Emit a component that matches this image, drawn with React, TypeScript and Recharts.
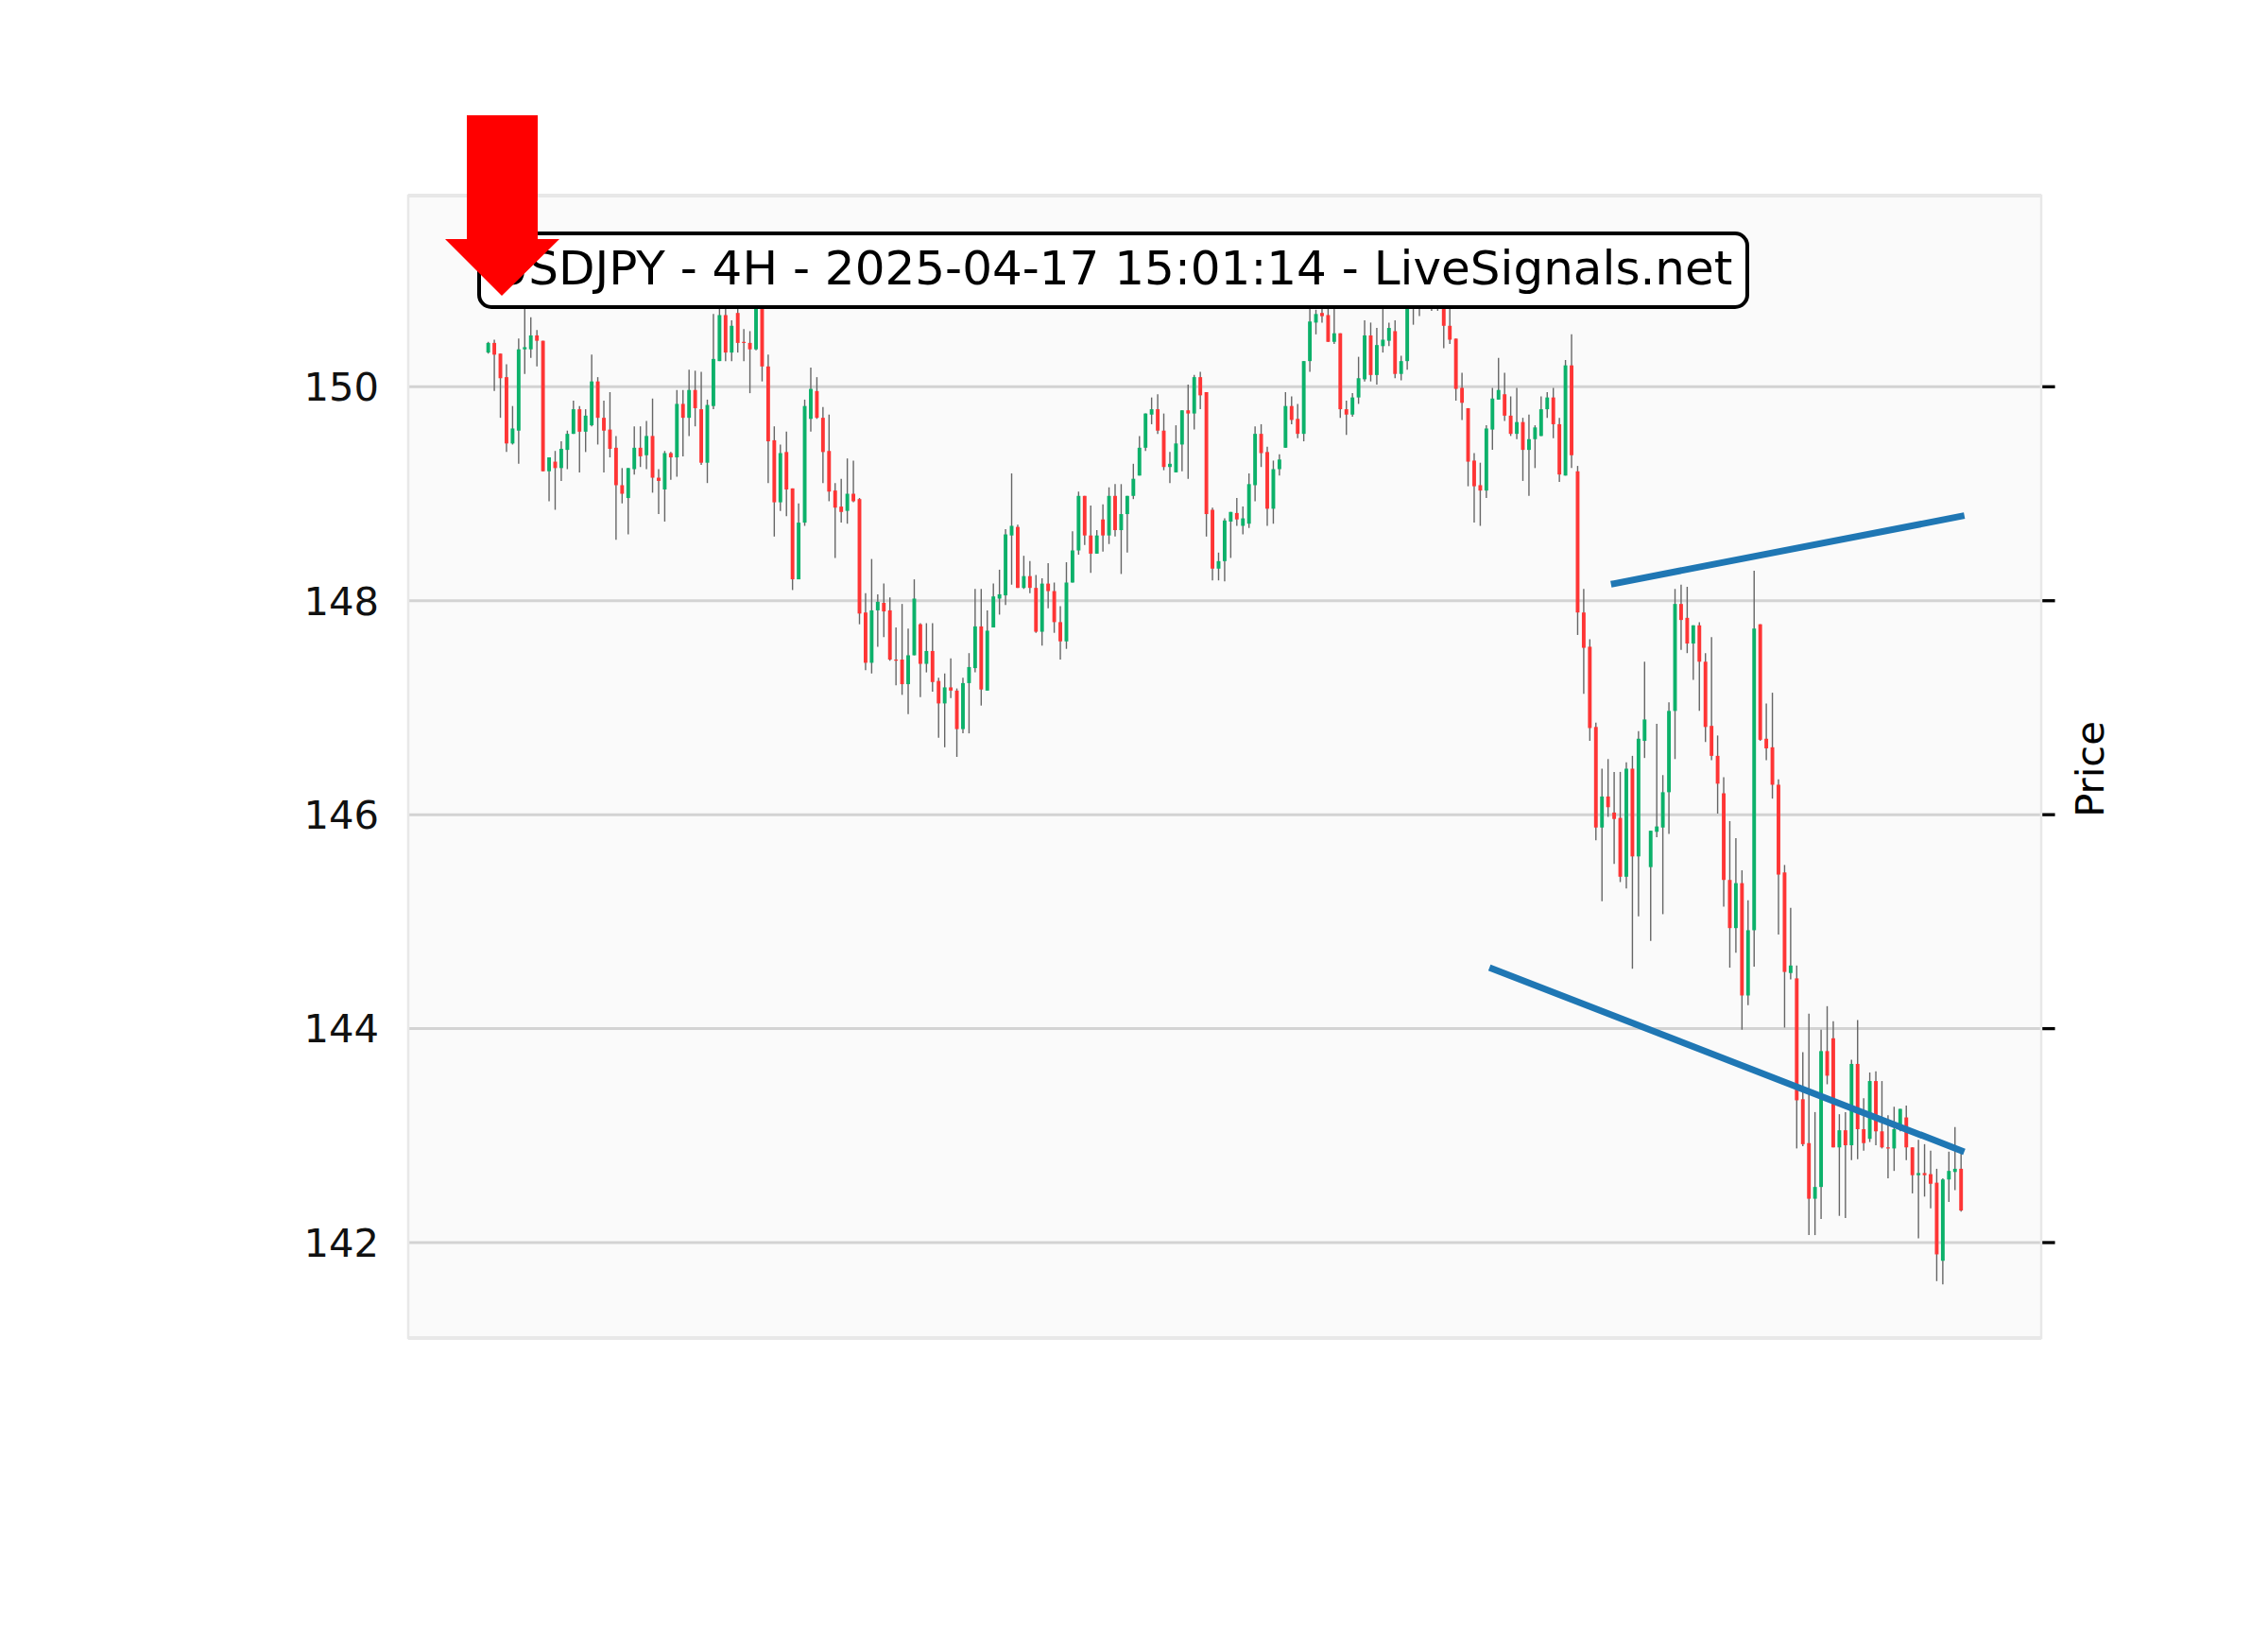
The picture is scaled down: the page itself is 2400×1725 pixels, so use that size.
import React from "react";
import { ComposedChart, Bar, Line, XAxis, YAxis, CartesianGrid } from "recharts";

// 4H candles, oldest first
const OPEN = [
  150.32, 150.41, 150.31, 150.09, 149.47, 149.59, 150.35, 150.35, 150.48, 150.43,
  149.21, 149.30, 149.24, 149.41, 149.56, 149.79, 149.58, 149.64, 150.05, 149.71,
  149.60, 149.43, 149.08, 148.96, 149.23, 149.43, 149.36, 149.54, 149.15, 149.04,
  149.38, 149.34, 149.84, 149.71, 149.97, 149.79, 149.29, 149.82, 150.24, 150.67,
  150.32, 150.69, 150.42, 150.41, 150.35, 150.80, 150.19, 149.50, 148.92, 149.39,
  149.05, 148.20, 148.73, 149.70, 149.96, 149.71, 149.40, 149.03, 148.88, 148.84,
  149.00, 148.95, 147.89, 147.42, 147.91, 147.98, 147.91, 147.45, 147.45, 147.22,
  147.49, 147.78, 147.41, 147.53, 147.25, 147.04, 147.19, 147.16, 146.80, 147.23,
  147.37, 147.76, 147.16, 147.75, 148.02, 148.05, 148.61, 148.69, 148.12, 148.23,
  148.12, 147.71, 148.16, 148.09, 147.80, 147.62, 148.17, 148.47, 148.98, 148.61,
  148.44, 148.76, 148.61, 148.98, 148.66, 148.81, 148.98, 149.17, 149.43, 149.74,
  149.79, 149.59, 149.25, 149.20, 149.46, 149.78, 149.75, 150.09, 149.95, 148.85,
  148.30, 148.37, 148.74, 148.82, 148.70, 148.72, 149.08, 149.56, 149.39, 148.86,
  149.23, 149.43, 149.82, 149.70, 149.56, 150.24, 150.60, 150.69, 150.67, 150.42,
  150.50, 149.79, 149.74, 149.90, 150.07, 150.48, 150.11, 150.38, 150.43, 150.52,
  150.12, 150.24, 150.82, 150.95, 150.86, 150.92, 150.88, 150.82, 150.57, 150.45,
  149.99, 149.80, 149.31, 149.08, 149.03, 149.60, 149.88, 149.93, 149.73, 149.56,
  149.67, 149.41, 149.51, 149.54, 149.79, 149.90, 149.65, 149.17, 150.20, 149.21,
  147.89, 147.57, 146.82, 145.88, 146.17, 146.02, 145.97, 145.42, 146.43, 145.61,
  146.69, 145.51, 145.84, 145.88, 146.21, 146.97, 147.97, 147.84, 147.60, 147.77,
  147.43, 146.83, 146.55, 146.20, 145.39, 144.94, 145.36, 144.31, 144.92, 147.78,
  146.71, 146.63, 146.28, 145.46, 144.52, 144.47, 143.34, 142.93, 142.41, 142.52,
  143.79, 143.91, 142.89, 143.05, 142.91, 143.67, 143.06, 142.97, 143.51, 143.04,
  142.89, 142.88, 143.06, 143.17, 142.89, 142.63, 142.65, 142.64, 142.56, 141.83,
  142.59, 142.66, 142.69,
];

const HIGH = [
  150.42, 150.44, 150.31, 150.21, 149.82, 150.45, 150.73, 150.65, 150.53, 150.43,
  149.34, 149.40, 149.49, 149.59, 149.87, 149.82, 149.79, 150.30, 150.09, 149.87,
  149.95, 149.54, 149.24, 149.24, 149.63, 149.63, 149.68, 149.89, 149.23, 149.40,
  149.39, 149.97, 149.97, 150.16, 150.15, 150.14, 149.88, 150.68, 150.80, 150.74,
  150.62, 150.73, 150.54, 150.52, 150.85, 150.85, 150.30, 149.63, 149.46, 149.58,
  149.05, 148.91, 149.88, 150.18, 150.09, 149.81, 149.74, 149.10, 149.14, 149.33,
  149.31, 148.96, 148.07, 148.39, 148.06, 148.16, 148.03, 147.75, 147.97, 147.74,
  148.20, 147.79, 147.79, 147.79, 147.28, 147.32, 147.46, 147.18, 147.28, 147.51,
  148.11, 148.11, 147.91, 148.16, 148.29, 148.67, 149.19, 148.71, 148.42, 148.37,
  148.24, 148.21, 148.35, 148.17, 147.95, 148.36, 148.65, 149.02, 148.98, 148.89,
  148.66, 148.90, 149.06, 149.09, 149.09, 148.98, 149.28, 149.54, 149.75, 149.90,
  149.93, 149.75, 149.39, 149.64, 149.78, 150.02, 150.11, 150.14, 149.95, 148.87,
  148.45, 148.77, 148.83, 148.96, 148.88, 149.19, 149.63, 149.65, 149.44, 149.31,
  149.37, 149.95, 149.91, 149.84, 150.24, 150.74, 150.72, 150.73, 150.75, 150.76,
  150.50, 149.87, 149.94, 150.28, 150.62, 150.60, 150.55, 150.73, 150.60, 150.62,
  150.29, 150.92, 151.02, 151.10, 151.00, 151.05, 150.98, 150.90, 150.73, 150.45,
  150.13, 149.80, 149.38, 149.29, 149.64, 149.99, 150.27, 150.13, 149.91, 149.99,
  149.71, 149.74, 149.64, 149.91, 149.95, 149.99, 149.71, 150.25, 150.49, 149.26,
  148.11, 147.64, 146.86, 146.43, 146.52, 146.40, 146.40, 146.49, 146.55, 146.78,
  147.43, 145.85, 146.85, 146.37, 147.05, 148.11, 148.15, 148.13, 147.77, 147.80,
  147.51, 147.66, 146.74, 146.35, 145.94, 145.78, 145.48, 145.20, 148.28, 147.78,
  147.04, 147.14, 146.33, 145.53, 145.13, 144.59, 143.78, 144.14, 143.22, 143.99,
  144.21, 144.07, 143.20, 143.22, 143.71, 144.08, 143.35, 143.59, 143.60, 143.51,
  143.19, 143.27, 143.25, 143.28, 142.89, 142.96, 142.92, 142.86, 142.69, 142.60,
  142.85, 143.08, 142.85,
];

const LOW = [
  150.31, 149.96, 149.71, 149.39, 149.46, 149.28, 150.12, 150.27, 150.19, 149.21,
  148.93, 148.85, 149.12, 149.23, 149.56, 149.20, 149.39, 149.63, 149.46, 149.20,
  149.34, 148.57, 148.91, 148.62, 149.18, 149.25, 149.23, 149.01, 148.81, 148.74,
  149.13, 149.16, 149.35, 149.54, 149.63, 149.27, 149.10, 149.79, 150.24, 150.24,
  150.24, 150.32, 150.24, 149.94, 150.34, 150.05, 149.10, 148.60, 148.84, 148.79,
  148.10, 148.20, 148.70, 149.58, 149.70, 149.10, 148.93, 148.40, 148.73, 148.72,
  148.92, 147.78, 147.35, 147.32, 147.57, 147.66, 147.44, 147.21, 147.12, 146.94,
  147.49, 147.10, 147.33, 147.15, 146.72, 146.63, 147.09, 146.54, 146.76, 146.76,
  147.33, 147.02, 147.16, 147.75, 147.87, 147.96, 148.15, 148.12, 148.11, 148.07,
  147.70, 147.58, 147.93, 147.70, 147.45, 147.55, 148.17, 148.43, 148.52, 148.26,
  148.44, 148.46, 148.53, 148.60, 148.25, 148.45, 148.95, 149.17, 149.40, 149.65,
  149.56, 149.22, 149.10, 149.20, 149.21, 149.14, 149.60, 149.79, 148.60, 148.19,
  148.19, 148.18, 148.40, 148.70, 148.62, 148.68, 148.93, 149.25, 148.70, 148.72,
  149.17, 149.43, 149.65, 149.52, 149.49, 150.14, 150.49, 150.60, 150.42, 150.40,
  149.71, 149.55, 149.72, 149.84, 150.05, 150.05, 150.02, 150.32, 150.38, 150.08,
  150.06, 150.16, 150.58, 150.66, 150.78, 150.71, 150.71, 150.36, 150.40, 149.87,
  149.69, 149.07, 148.73, 148.70, 148.96, 149.41, 149.88, 149.68, 149.54, 149.51,
  149.12, 148.98, 149.24, 149.54, 149.71, 149.52, 149.11, 149.17, 149.24, 147.68,
  147.13, 146.69, 145.76, 145.19, 145.98, 145.54, 145.37, 145.31, 144.56, 145.05,
  146.53, 144.82, 145.79, 145.07, 145.82, 146.52, 147.54, 147.51, 147.26, 146.97,
  146.68, 146.51, 146.01, 145.14, 144.57, 144.71, 143.99, 144.22, 144.58, 146.69,
  146.51, 146.15, 144.88, 144.01, 144.46, 142.88, 142.90, 142.07, 142.07, 142.22,
  143.48, 142.89, 142.25, 142.23, 142.77, 142.78, 142.86, 142.94, 142.91, 142.88,
  142.60, 142.67, 143.04, 142.77, 142.46, 142.04, 142.43, 142.32, 141.64, 141.61,
  142.38, 142.49, 142.29,
];

const CLOSE = [
  150.41, 150.30, 150.08, 149.47, 149.61, 150.35, 150.37, 150.48, 150.43, 149.21,
  149.34, 149.24, 149.42, 149.56, 149.79, 149.58, 149.73, 150.05, 149.71, 149.59,
  149.42, 149.08, 149.00, 149.24, 149.43, 149.35, 149.54, 149.15, 149.12, 149.38,
  149.34, 149.84, 149.71, 149.97, 149.80, 149.29, 149.83, 150.26, 150.67, 150.32,
  150.57, 150.41, 150.41, 150.35, 150.80, 150.19, 149.49, 148.92, 149.38, 149.04,
  148.20, 148.73, 149.82, 149.98, 149.71, 149.39, 149.02, 148.87, 148.83, 149.00,
  148.93, 147.88, 147.42, 147.91, 147.99, 147.90, 147.45, 147.44, 147.22, 147.49,
  148.02, 147.41, 147.53, 147.24, 147.04, 147.19, 147.16, 146.80, 147.23, 147.38,
  147.76, 147.17, 147.72, 148.04, 148.06, 148.62, 148.70, 148.12, 148.23, 148.12,
  147.71, 148.16, 148.09, 147.80, 147.62, 148.17, 148.47, 148.98, 148.61, 148.44,
  148.61, 148.61, 148.98, 148.66, 148.81, 148.98, 149.14, 149.43, 149.75, 149.79,
  149.59, 149.25, 149.28, 149.47, 149.78, 149.75, 150.09, 149.92, 148.81, 148.30,
  148.37, 148.75, 148.83, 148.76, 148.77, 149.09, 149.56, 149.38, 148.86, 149.23,
  149.32, 149.82, 149.69, 149.56, 150.24, 150.61, 150.68, 150.66, 150.42, 150.50,
  149.79, 149.74, 149.90, 150.08, 150.48, 150.11, 150.39, 150.44, 150.55, 150.12,
  150.24, 150.82, 150.95, 150.86, 150.92, 150.88, 150.80, 150.57, 150.44, 149.98,
  149.85, 149.30, 149.07, 149.03, 149.61, 149.89, 149.97, 149.73, 149.56, 149.67,
  149.41, 149.51, 149.62, 149.79, 149.90, 149.65, 149.18, 150.20, 149.36, 147.89,
  147.56, 146.81, 145.88, 146.17, 146.07, 145.96, 145.42, 146.43, 145.61, 146.71,
  146.89, 145.85, 145.89, 146.21, 146.97, 147.97, 147.82, 147.60, 147.77, 147.43,
  146.82, 146.55, 146.29, 145.39, 144.94, 145.36, 144.31, 144.92, 147.74, 146.70,
  146.62, 146.28, 145.44, 144.53, 144.59, 143.33, 142.92, 142.41, 142.52, 143.79,
  143.56, 142.89, 143.05, 142.91, 143.67, 143.06, 142.93, 143.51, 143.04, 142.89,
  142.88, 143.06, 143.25, 142.89, 142.63, 142.65, 142.63, 142.55, 141.89, 142.59,
  142.67, 142.69, 142.30,
];

// trend lines: [candle index, price]
const UPPER_TREND = [
  { idx: 185, price: 148.16 },
  { idx: 242, price: 148.79 },
];
const LOWER_TREND = [
  { idx: 165, price: 144.56 },
  { idx: 242, price: 142.86 },
];

const PRICE_TICKS = [142, 144, 146, 148, 150];
const PRICE_DOMAIN: [number, number] = [141.108, 151.787];
const TITLE = "USDJPY - 4H - 2025-04-17 15:01:14 - LiveSignals.net";

const UP = "#0cb16a";
const DOWN = "#fe3535";
const WICK = "#666666";
const FONT = "DejaVu Sans";

const pointAt = (list: { idx: number; price: number }[], i: number) => {
  const p = list.find((d) => d.idx === i);
  return p ? p.price : null;
};

const data = OPEN.map((open, i) => ({
  idx: i,
  open,
  high: HIGH[i],
  low: LOW[i],
  close: CLOSE[i],
  range: [LOW[i], HIGH[i]],
  upper: pointAt(UPPER_TREND, i),
  lower: pointAt(LOWER_TREND, i),
}));

// draws wick + body inside the low..high range bar recharts gives us
const Candle = (props: any) => {
  const { x, y, width, height, payload } = props;
  if (!payload || x == null || y == null) return <g />;
  const { open, close, high, low } = payload;
  const top = Math.min(y, y + height);
  const bottom = Math.max(y, y + height);
  const ppu = high > low ? (bottom - top) / (high - low) : 0;
  const yOf = (v: number) => top + (high - v) * ppu;
  const cx = x + width / 2;
  const bodyTop = yOf(Math.max(open, close));
  const bodyBot = yOf(Math.min(open, close));
  const bw = 3.9;
  return (
    <g>
      <line x1={cx} x2={cx} y1={top} y2={bottom} stroke={WICK} strokeWidth={1.4} />
      <rect
        x={cx - bw / 2}
        y={bodyTop}
        width={bw}
        height={Math.max(bodyBot - bodyTop, 1.2)}
        fill={close >= open ? UP : DOWN}
      />
    </g>
  );
};

const NoTick = () => <g />;

export default function App() {
  return (
    <div style={{ position: "absolute", left: 0, top: 0, width: 2400, height: 1725, background: "#fff" }}>
      <ComposedChart
        width={2400}
        height={1725}
        data={data}
        margin={{ top: 207, right: 220, bottom: 309, left: 0 }}
      >
        <CartesianGrid
          yAxisId="p"
          vertical={false}
          fill="#fafafa"
          stroke="#d3d3d3"
          strokeWidth={3}
        />
        <XAxis
          dataKey="idx"
          type="category"
          hide
          padding={{ left: 81.5, right: 81.5 }}
        />
        <YAxis
          yAxisId="p"
          orientation="left"
          domain={PRICE_DOMAIN}
          ticks={PRICE_TICKS}
          allowDataOverflow
          width={432}
          axisLine={false}
          tickLine={false}
          tickSize={0}
          tickMargin={31}
          tick={{ fill: "#111", fontSize: 41.7, fontFamily: FONT }}
        />
        <YAxis
          yAxisId="r"
          orientation="right"
          domain={PRICE_DOMAIN}
          ticks={PRICE_TICKS}
          allowDataOverflow
          width={20}
          axisLine={false}
          tickLine={{ stroke: "#000", strokeWidth: 3.3 }}
          tickSize={14.6}
          tick={NoTick}
        />
        <Bar
          yAxisId="p"
          dataKey="range"
          shape={Candle}
          isAnimationActive={false}
        />
        <Line
          yAxisId="p"
          dataKey="upper"
          stroke="#1f77b4"
          strokeWidth={7}
          strokeLinecap="square"
          dot={false}
          connectNulls
          isAnimationActive={false}
        />
        <Line
          yAxisId="p"
          dataKey="lower"
          stroke="#1f77b4"
          strokeWidth={7}
          strokeLinecap="square"
          dot={false}
          connectNulls
          isAnimationActive={false}
        />
      </ComposedChart>

      {/* frame, title box, signal arrow and axis label */}
      <svg
        width={2400}
        height={1725}
        style={{ position: "absolute", left: 0, top: 0, pointerEvents: "none" }}
      >
        <rect x={432} y={207} width={1728} height={1209} fill="none" stroke="#e8e8e8" strokeWidth={2.5} />
        <rect x={507} y={247} width={1342} height={78} rx={13} fill="#fff" stroke="#000" strokeWidth={4} />
        <text x={1178} y={301} textAnchor="middle" fontSize={50} fontFamily={FONT} fill="#000">
          {TITLE}
        </text>
        <polygon
          points="494,122 569,122 569,253 592,253 531,313 471,253 494,253"
          fill="#ff0000"
        />
        <text
          transform="translate(2211 814) rotate(-90)"
          textAnchor="middle"
          dominantBaseline="central"
          fontSize={41.7}
          fontFamily={FONT}
          fill="#000"
        >
          Price
        </text>
      </svg>
    </div>
  );
}
